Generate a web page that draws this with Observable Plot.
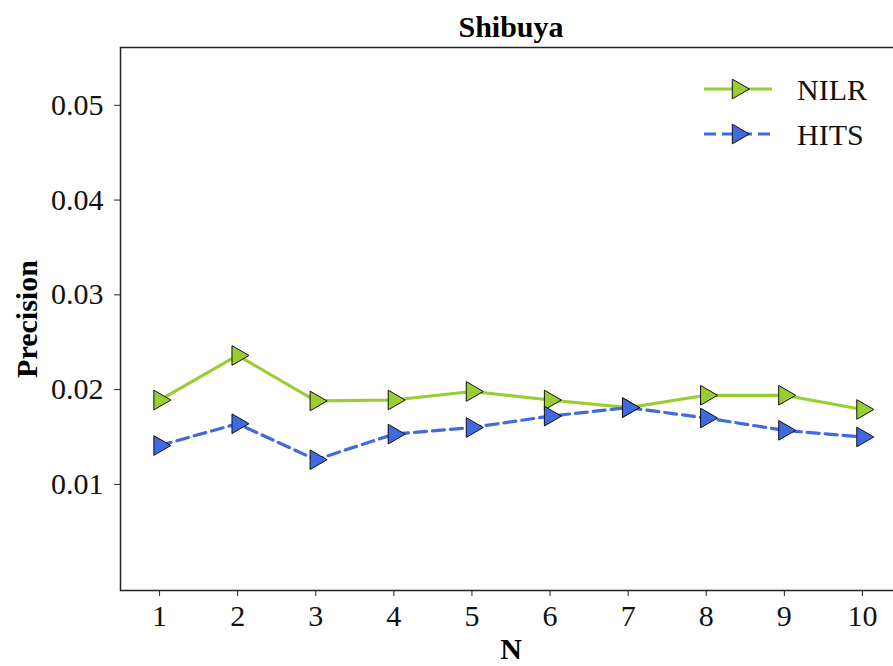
<!DOCTYPE html>
<html>
<head>
<meta charset="utf-8">
<script src="https://cdn.jsdelivr.net/npm/d3@7"></script>
<script src="https://cdn.jsdelivr.net/npm/@observablehq/plot@0.6"></script>
<style>
  html, body { margin: 0; padding: 0; background: #fff; }
  #chart svg { display: block; }
  #chart svg text { font-family: "Liberation Serif", "Times New Roman", serif; }
</style>
</head>
<body>
<div id="chart"></div>
<script>
const titleText = "Shibuya";
const xLabel = "N";
const yLabel = "Precision";
const nValues = [1, 2, 3, 4, 5, 6, 7, 8, 9, 10];
const nilrPrecision = [0.0189, 0.0236, 0.0188, 0.0189, 0.0198, 0.0189, 0.0181, 0.0194, 0.0194, 0.0179];
const hitsPrecision = [0.0141, 0.0164, 0.0126, 0.0153, 0.0160, 0.0172, 0.0181, 0.0170, 0.0157, 0.0150];
const seriesNames = ["NILR", "HITS"];
const yTicks = [0.01, 0.02, 0.03, 0.04, 0.05];

const seriesStyle = {
  NILR: {color: "#9acd32", dash: null},
  HITS: {color: "#4169e1", dash: "12,6"}
};

const rows = [
  ...nValues.map((n, i) => ({n, value: nilrPrecision[i], series: "NILR"})),
  ...nValues.map((n, i) => ({n, value: hitsPrecision[i], series: "HITS"}))
];

const serif = "Liberation Serif";

const lineMarks = seriesNames.map(name => Plot.line(rows.filter(d => d.series === name), {
  x: "n", y: "value",
  stroke: seriesStyle[name].color,
  strokeWidth: 3.2,
  strokeDasharray: seriesStyle[name].dash
}));
const dotMarks = seriesNames.map(name => Plot.dot(rows.filter(d => d.series === name), {
  x: "n", y: "value",
  symbol: "triangle",
  rotate: 90,
  r: 7.3,
  fill: seriesStyle[name].color,
  stroke: "#111",
  strokeWidth: 1
}));

const chart = Plot.plot({
  width: 893,
  height: 666,
  marginLeft: 120,
  marginRight: -8,
  marginTop: 47,
  marginBottom: 76,
  style: {background: "#fff", color: "#111"},
  x: {domain: [0.5, 10.5], label: null},
  y: {domain: [-0.0012, 0.0561], label: null},
  marks: [
    Plot.axisX({ticks: nValues, tickFormat: d3.format("d"), tickSize: 6, tickPadding: 8, label: null,
      stroke: "#222", fill: "#111", fontSize: 30, fontFamily: serif}),
    Plot.axisY({ticks: yTicks, tickFormat: d3.format(".2f"), tickSize: 6, tickPadding: 11, label: null,
      stroke: "#222", fill: "#111", fontSize: 30, fontFamily: serif}),
    ...lineMarks,
    ...dotMarks,
    Plot.frame({stroke: "#222", strokeWidth: 1.5}),
    Plot.text([titleText], {frameAnchor: "top", dy: -20, fontWeight: "bold", fontSize: 30, fontFamily: serif, fill: "#000", lineAnchor: "middle"}),
    Plot.text([xLabel], {frameAnchor: "bottom", dy: 59, fontWeight: "bold", fontSize: 30, fontFamily: serif, fill: "#000", lineAnchor: "middle"}),
    Plot.text([yLabel], {frameAnchor: "left", dx: -93, rotate: -90, textAnchor: "middle", fontWeight: "bold", fontSize: 30, fontFamily: serif, fill: "#000", lineAnchor: "middle"})
  ]
});

// Legend in the upper right corner of the plotting area
const svg = d3.select(chart);
const legend = svg.append("g")
  .attr("transform", "translate(704, 89)")
  .attr("font-family", serif)
  .attr("font-size", 30)
  .attr("text-anchor", "start");
const tri = d3.symbol(d3.symbolTriangle, Math.PI * 7.3 * 7.3);
seriesNames.forEach((name, i) => {
  const g = legend.append("g").attr("transform", `translate(0, ${i * 45})`);
  g.append("line")
    .attr("x1", 0).attr("x2", 68).attr("y1", 0).attr("y2", 0)
    .attr("stroke", seriesStyle[name].color)
    .attr("stroke-width", 3.2)
    .attr("stroke-dasharray", seriesStyle[name].dash);
  g.append("path")
    .attr("d", tri())
    .attr("transform", "translate(34,0) rotate(90)")
    .attr("fill", seriesStyle[name].color)
    .attr("stroke", "#111")
    .attr("stroke-width", 1);
  g.append("text")
    .attr("x", 93).attr("y", 0).attr("dy", "0.35em")
    .attr("fill", "#111")
    .text(name);
});

document.getElementById("chart").appendChild(chart);
</script>
</body>
</html>
